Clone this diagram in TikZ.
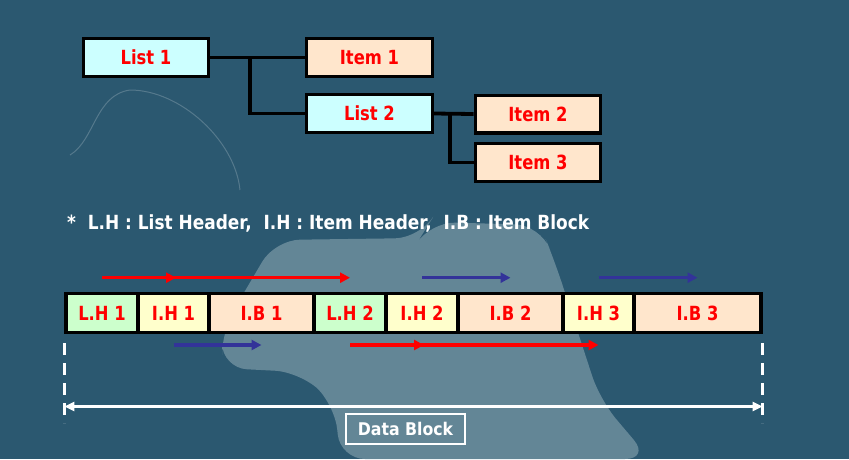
\documentclass[tikz,border=0pt]{standalone}
\usepackage{fontspec}
\setmainfont{DejaVu Sans}
\newfontfamily\boxfont[FakeStretch=0.84]{DejaVu Sans}
\newfontfamily\legendfont[FakeStretch=0.87]{DejaVu Sans}
\newfontfamily\dbfont[FakeStretch=0.9]{DejaVu Sans}
\usetikzlibrary{arrows.meta,decorations.markings,calc}
\definecolor{bgdark}{HTML}{2B5870}
\definecolor{bglight}{HTML}{6A8B9B}
\definecolor{listfill}{HTML}{CCFFFF}
\definecolor{itemfill}{HTML}{FFE6CC}
\definecolor{lhfill}{HTML}{CCFFCC}
\definecolor{ihfill}{HTML}{FFFFCC}
\definecolor{ibfill}{HTML}{FFE6CC}
\definecolor{txtred}{HTML}{FF0000}
\definecolor{arrblue}{HTML}{333399}
\begin{document}
\begin{tikzpicture}[x=1pt,y=-1pt,
  box/.style={draw=black, line width=3.2pt, minimum height=37.8pt, inner sep=0pt,
    font=\boxfont\fontsize{19.5}{22}\selectfont\bfseries, text=txtred},
  listbox/.style={box, fill=listfill, minimum width=125.5pt},
  itembox/.style={box, fill=itemfill, minimum width=125.5pt},
  cell/.style={box, minimum height=38.8pt},
  conn/.style={draw=black, line width=3.8pt},
  midtip/.style={postaction={decorate}, decoration={markings,
    mark=at position 74pt with {\arrow{Triangle[length=10pt,width=10pt]}}}},
  redarr/.style={color=txtred, line width=3.5pt, -{Triangle[length=10pt,width=10pt]}, midtip},
  bluearr/.style={color=arrblue, line width=3.3pt, -{Triangle[length=10pt,width=10pt]}},
  dashline/.style={draw=white, line width=3.2pt, dash pattern=on 12pt off 8pt},
  dbarrow/.style={draw=white, line width=2.8pt, {Triangle[length=10pt,width=9pt]}-{Triangle[length=10pt,width=9pt]}},
  whitetext/.style={text=white, font=\legendfont\fontsize{19.5}{22}\selectfont\bfseries, inner sep=0pt}
]
\useasboundingbox (0,0) rectangle (849,459);
\fill[bgdark] (0,0) rectangle (849,459);
% background texture (lighter puzzle piece)
\fill[bglight, opacity=0.9, rounded corners=25pt]
  (275,240) -- (420,238) -- (430,222) -- (540,225) -- (555,262) -- (600,400)
  -- (650,459) -- (340,459) -- (335,405) -- (300,372) -- (222,368) -- (222,330) -- cycle;
\draw[white, opacity=0.2, line width=1pt] (70,155) .. controls (95,140) and (95,95) .. (130,90) .. controls (180,90) and (235,140) .. (240,190);

% tree
\node[listbox] (L1) at (146,57.5) {List 1};
\node[itembox] (I1) at (369.5,57.5) {Item 1};
\node[listbox] (L2) at (369.5,113.5) {List 2};
\node[itembox] (I2) at (538,114) {Item 2};
\node[itembox] (I3) at (538,162.5) {Item 3};
\coordinate (j1) at (250,57.5);
\coordinate (j2) at (450,114);
\draw[conn] (L1.east) -- (I1.west);
\draw[conn] (j1) |- (L2.west);
\draw[conn] (L2.east) -- (I2.west);
\draw[conn] (j2) |- (I3.west);

% legend
\node[whitetext, anchor=base west] (legend) at (67,229)
  {*~ L.H : List Header,~ I.H : Item Header,~ I.B : Item Block};

% data block bar
\node[cell, fill=lhfill, minimum width=72pt]  (c1) at (102,313)   {L.H 1};
\node[cell, fill=ihfill, minimum width=71pt]  (c2) at (173.5,313) {I.H 1};
\node[cell, fill=ibfill, minimum width=105pt] (c3) at (261.5,313) {I.B 1};
\node[cell, fill=lhfill, minimum width=72pt]  (c4) at (350,313)   {L.H 2};
\node[cell, fill=ihfill, minimum width=72pt]  (c5) at (422,313)   {I.H 2};
\node[cell, fill=ibfill, minimum width=105pt] (c6) at (510.5,313) {I.B 2};
\node[cell, fill=ihfill, minimum width=71pt]  (c7) at (598.5,313) {I.H 3};
\node[cell, fill=ibfill, minimum width=127pt] (c8) at (697.5,313) {I.B 3};

% pointer arrows
\draw[redarr]  ([yshift=35.3pt]c1.center) -- ([yshift=35.3pt]c4.center);
\draw[bluearr] ([yshift=35.3pt]c5.center) -- ([yshift=35.3pt]c6.center);
\draw[bluearr] ([yshift=35.3pt]c7.center) -- ([yshift=35.3pt]c8.center);
\draw[bluearr] ([yshift=-32pt]c2.center) -- ([yshift=-32pt]c3.center);
\draw[redarr]  ([yshift=-32pt]c4.center) -- ([yshift=-32pt]c7.center);

% data block extent
\coordinate (ylo) at (0,343);
\coordinate (yhi) at (0,423);
\coordinate (yarr) at (0,406.5);
\draw[dashline] (c1.west |- ylo) -- (c1.west |- yhi);
\draw[dashline] (c8.east |- ylo) -- (c8.east |- yhi);
\draw[dbarrow] (c1.west |- yarr) -- (c8.east |- yarr);
\node[draw=white, line width=2.6pt, text=white, font=\dbfont\fontsize{17.5}{20}\selectfont\bfseries,
  minimum width=119pt, minimum height=30pt, inner sep=0pt] (db) at (405.5,429) {Data Block};
\end{tikzpicture}
\end{document}
